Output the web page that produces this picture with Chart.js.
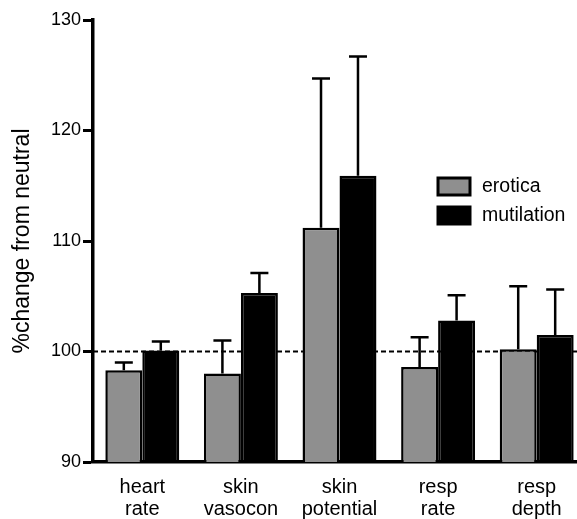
<!DOCTYPE html>
<html>
<head>
<meta charset="utf-8">
<script src="https://cdn.jsdelivr.net/npm/chart.js@4.4.0/dist/chart.umd.min.js"></script>
<style>
  html, body { margin: 0; padding: 0; background: #fff; }
  #wrap { width: 577px; height: 519px; overflow: hidden; }
</style>
</head>
<body>
<div id="wrap"><canvas id="chart" width="586" height="519"></canvas></div>
<script>
// values (bar = mean, err = upward error bar length)
const categories = [['heart', 'rate'], ['skin', 'vasocon'], ['skin', 'potential'], ['resp', 'rate'], ['resp', 'depth']];
const erotica = [98.3, 98.0, 111.2, 98.6, 100.2];
const eroticaErr = [0.7, 3.0, 13.5, 2.7, 5.7];
const mutilation = [100.1, 105.3, 115.9, 102.8, 101.5];
const mutilationErr = [0.8, 1.8, 10.8, 2.3, 4.1];
const yTicks = [90, 100, 110, 120, 130];
const neutralLevel = 100;

const font = "'Liberation Sans', Arial, Helvetica, sans-serif";

// dashed reference line at 100
const refLine = {
  id: 'refLine',
  beforeDatasetsDraw(chart) {
    const { ctx, chartArea } = chart;
    const y = chart.scales.y.getPixelForValue(neutralLevel);
    ctx.save();
    ctx.strokeStyle = '#000';
    ctx.lineWidth = 2.2;
    ctx.setLineDash([5, 3]);
    ctx.beginPath();
    ctx.moveTo(chartArea.left, y);
    ctx.lineTo(chartArea.right, y);
    ctx.stroke();
    ctx.restore();
  }
};

// one-sided (upward) error bars
const errorBars = {
  id: 'errorBars',
  afterDatasetsDraw(chart) {
    const { ctx } = chart;
    const yScale = chart.scales.y;
    ctx.save();
    ctx.strokeStyle = '#000';
    ctx.lineWidth = 2.5;
    chart.data.datasets.forEach((ds, di) => {
      const meta = chart.getDatasetMeta(di);
      meta.data.forEach((bar, i) => {
        const top = yScale.getPixelForValue(ds.data[i] + ds.errors[i]);
        ctx.beginPath();
        ctx.moveTo(bar.x, bar.y);
        ctx.lineTo(bar.x, top);
        ctx.moveTo(bar.x - 9, top);
        ctx.lineTo(bar.x + 9, top);
        ctx.stroke();
      });
    });
    ctx.restore();
  }
};

// legend boxes inside the plot, right side
const boxLegend = {
  id: 'boxLegend',
  afterDraw(chart) {
    const { ctx, chartArea } = chart;
    const x = chartArea.left + 345;
    let y = chartArea.top + 158;
    ctx.save();
    ctx.font = '19.5px ' + font;
    ctx.textBaseline = 'middle';
    chart.data.datasets.forEach(ds => {
      ctx.fillStyle = ds.backgroundColor;
      ctx.fillRect(x, y, 32, 17);
      ctx.strokeStyle = '#000';
      ctx.lineWidth = 3;
      ctx.strokeRect(x, y, 32, 17);
      ctx.fillStyle = '#000';
      ctx.fillText(ds.label, x + 44, y + 9);
      y += 29;
    });
    ctx.restore();
  }
};

new Chart(document.getElementById('chart'), {
  type: 'bar',
  data: {
    labels: categories,
    datasets: [
      {
        label: 'erotica',
        data: erotica,
        errors: eroticaErr,
        backgroundColor: '#8f8f8f',
        borderColor: '#000',
        borderWidth: 2.5,
      },
      {
        label: 'mutilation',
        data: mutilation,
        errors: mutilationErr,
        backgroundColor: '#000',
        borderColor: '#000',
        borderWidth: 2.5,
      },
    ],
  },
  options: {
    responsive: false,
    animation: false,
    layout: { padding: { top: 20, right: 0, bottom: 0, left: 0 } },
    plugins: { legend: { display: false }, tooltip: { enabled: false } },
    datasets: { bar: { categoryPercentage: 0.75, barPercentage: 1 } },
    scales: {
      x: {
        grid: { display: false, drawTicks: false },
        border: { display: true, color: '#000', width: 3.5 },
        ticks: { color: '#000', font: { family: font, size: 20, lineHeight: 1.1 }, padding: 14, maxRotation: 0 },
        afterFit(scale) { scale.height = 57; },
      },
      y: {
        min: 90,
        max: 130,
        afterBuildTicks(scale) { scale.ticks = yTicks.map(v => ({ value: v })); },
        grid: { drawOnChartArea: false, drawTicks: true, tickLength: 10, tickWidth: 3, tickColor: '#000' },
        border: { display: true, color: '#000', width: 3.5 },
        ticks: { color: '#000', font: { family: font, size: 18 }, padding: 2 },
        title: {
          display: true,
          text: '%change from neutral',
          color: '#000',
          font: { family: font, size: 23 },
          padding: { top: 9, bottom: 0 },
        },
        afterFit(scale) { scale.width = 93; },
      },
    },
  },
  plugins: [refLine, errorBars, boxLegend],
});
</script>
</body>
</html>
